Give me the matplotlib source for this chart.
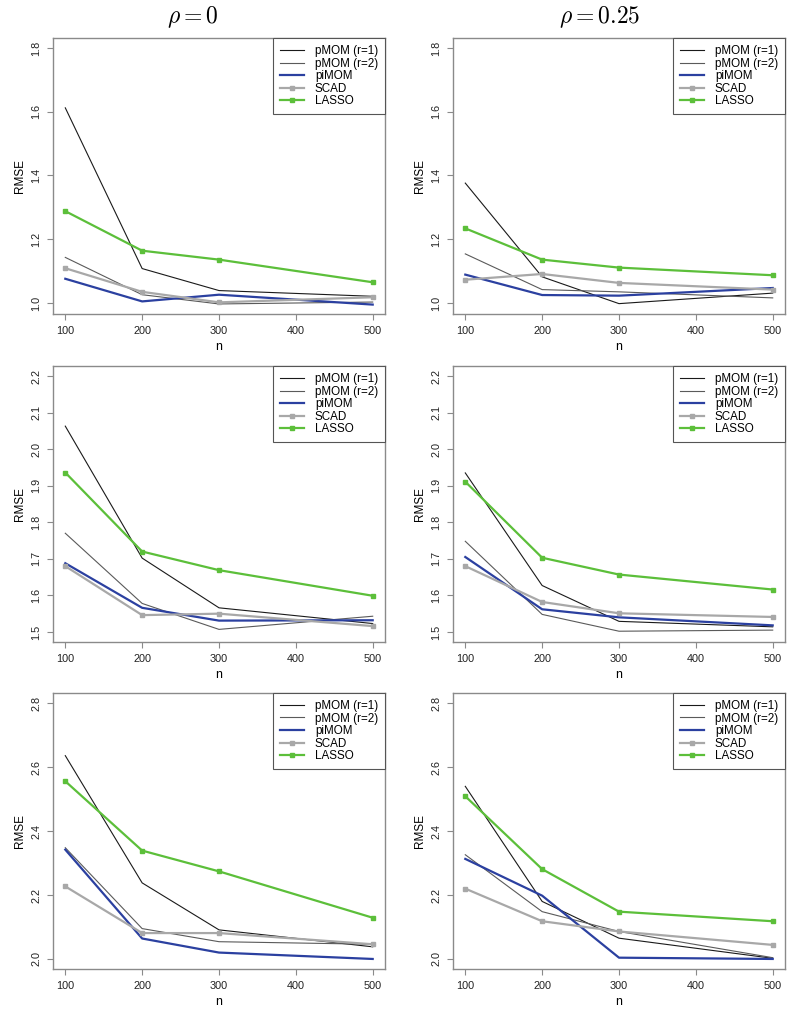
import matplotlib.pyplot as plt

plt.rcParams['font.family'] = ['Liberation Sans', 'DejaVu Sans']
plt.rcParams['mathtext.fontset'] = 'cm'

n = [100, 200, 300, 500]

# one row per panel: (top-left, top-right, mid-left, mid-right, bottom-left, bottom-right)
pmom_r1 = [
    [1.612, 1.108, 1.039, 1.021],
    [1.376, 1.082, 0.998, 1.031],
    [2.063, 1.702, 1.566, 1.523],
    [1.935, 1.627, 1.529, 1.514],
    [2.636, 2.238, 2.091, 2.038],
    [2.540, 2.180, 2.065, 2.002],
]
pmom_r2 = [
    [1.143, 1.026, 0.997, 1.003],
    [1.154, 1.042, 1.035, 1.016],
    [1.770, 1.578, 1.507, 1.543],
    [1.748, 1.548, 1.502, 1.505],
    [2.348, 2.095, 2.054, 2.046],
    [2.326, 2.148, 2.086, 2.004],
]
pimom = [
    [1.076, 1.005, 1.026, 0.995],
    [1.089, 1.025, 1.023, 1.047],
    [1.688, 1.566, 1.531, 1.532],
    [1.705, 1.562, 1.540, 1.518],
    [2.342, 2.064, 2.020, 2.000],
    [2.313, 2.198, 2.004, 2.000],
]
scad = [
    [1.109, 1.035, 1.002, 1.018],
    [1.073, 1.091, 1.063, 1.042],
    [1.680, 1.546, 1.550, 1.516],
    [1.680, 1.582, 1.551, 1.541],
    [2.227, 2.081, 2.081, 2.046],
    [2.220, 2.118, 2.086, 2.044],
]
lasso = [
    [1.288, 1.164, 1.136, 1.065],
    [1.234, 1.136, 1.111, 1.087],
    [1.936, 1.720, 1.669, 1.599],
    [1.911, 1.703, 1.657, 1.616],
    [2.556, 2.339, 2.274, 2.129],
    [2.509, 2.281, 2.148, 2.118],
]

col_titles = [r'$\rho = 0$', r'$\rho = 0.25$']
row_ticks = [
    [1.0, 1.2, 1.4, 1.6, 1.8],
    [1.5, 1.6, 1.7, 1.8, 1.9, 2.0, 2.1, 2.2],
    [2.0, 2.2, 2.4, 2.6, 2.8],
]
row_ylim = [(0.9655, 1.831), (1.4725, 2.2275), (1.9686, 2.832)]

fig = plt.figure(figsize=(7.95, 10.11), dpi=100)
W, H = 795, 1011
lefts = [53, 453]
tops = [38, 366, 693]
aw, ah = 332, 276
title_x = [193, 600]

frame_col = '#8a8a8a'
for r in range(3):
    for c in range(2):
        k = r * 2 + c
        ax = fig.add_axes([lefts[c] / W, 1 - (tops[r] + ah) / H, aw / W, ah / H])
        ax.plot(n, pmom_r1[k], color='#1a1a1a', lw=0.8, label='pMOM (r=1)')
        ax.plot(n, pmom_r2[k], color='#5a5a5a', lw=0.8, label='pMOM (r=2)')
        ax.plot(n, pimom[k], color='#2b40a0', lw=1.6, label='piMOM')
        ax.plot(n, scad[k], color='#a8a8a8', lw=1.6, marker='s', ms=3.5, label='SCAD')
        ax.plot(n, lasso[k], color='#5cbf3a', lw=1.6, marker='s', ms=3.5, label='LASSO')
        ax.set_xlim(84, 516)
        ax.set_ylim(*row_ylim[r])
        ax.set_xticks([100, 200, 300, 400, 500])
        ax.set_yticks(row_ticks[r])
        ax.set_yticklabels(['%.1f' % v for v in row_ticks[r]], rotation=90, va='center')
        for s in ax.spines.values():
            s.set_color(frame_col)
            s.set_linewidth(1.0)
        ax.tick_params(direction='out', length=4.3, width=0.8, color=frame_col,
                       labelsize=7.8, labelcolor='#222222', pad=4)
        ax.set_xlabel('n', fontsize=9, labelpad=4)
        ax.set_ylabel('RMSE', fontsize=8.5, labelpad=4)
        leg = ax.legend(loc='upper right', bbox_to_anchor=(1, 1), borderaxespad=0,
                        fancybox=False, framealpha=1, edgecolor='#555555',
                        fontsize=8.4, handlelength=2.1, handletextpad=0.9,
                        labelspacing=0.05, borderpad=0.6, markerscale=0.9)
        leg.get_frame().set_linewidth(0.8)
        if r == 0:
            fig.text(title_x[c] / W, 1 - 17 / H, col_titles[c],
                     ha='center', va='center', fontsize=17)

fig.savefig('out.png', dpi=100)
